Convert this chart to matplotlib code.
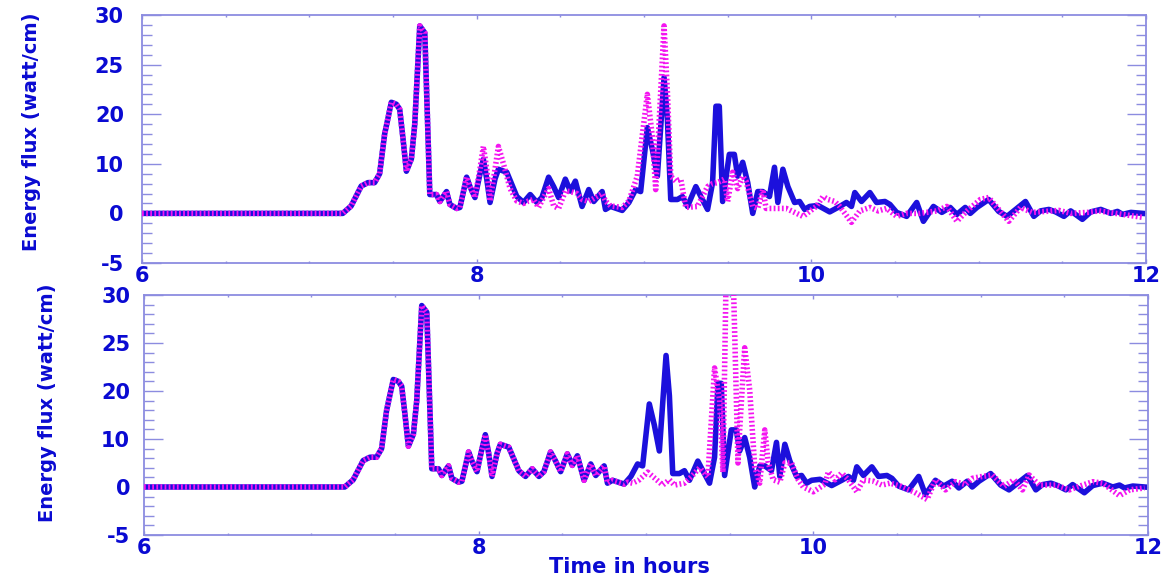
import numpy as np
import matplotlib
matplotlib.use("Agg")
import matplotlib.pyplot as plt
from matplotlib.ticker import FixedLocator, FixedFormatter, MultipleLocator

# Serie continua (azul), comun a los dos paneles: tiempo (horas) y flujo (watt/cm)
tiempo = [6.0, 7.0, 7.2, 7.25, 7.31, 7.35, 7.39, 7.42, 7.45, 7.49, 7.52, 7.54, 7.56, 7.58, 7.61,
          7.63, 7.66, 7.69, 7.71, 7.72, 7.76, 7.78, 7.82, 7.84, 7.88, 7.90, 7.94, 7.96, 7.99, 8.02,
          8.04, 8.06, 8.08, 8.11, 8.13, 8.18, 8.24, 8.28, 8.32, 8.36, 8.39, 8.43, 8.46, 8.49, 8.53,
          8.56, 8.59, 8.63, 8.67, 8.70, 8.75, 8.77, 8.80, 8.87, 8.91, 8.95, 8.98, 9.02, 9.05, 9.08,
          9.12, 9.14, 9.16, 9.20, 9.23, 9.26, 9.31, 9.34, 9.38, 9.41, 9.43, 9.45, 9.47, 9.51, 9.54,
          9.56, 9.59, 9.62, 9.65, 9.68, 9.71, 9.75, 9.78, 9.80, 9.83, 9.86, 9.90, 9.93, 9.96, 9.99,
          10.04, 10.11, 10.17, 10.21, 10.24, 10.26, 10.30, 10.35, 10.39, 10.44, 10.47, 10.51, 10.57,
          10.63, 10.67, 10.73, 10.78, 10.83, 10.87, 10.92, 10.95, 10.99, 11.06, 11.12, 11.17, 11.21,
          11.28, 11.33, 11.37, 11.42, 11.46, 11.51, 11.55, 11.62, 11.67, 11.73, 11.79, 11.83, 11.86,
          11.91, 11.98]
flujo = [0, 0, 0, 1.5, 5.5, 6.2, 6.2, 8, 16, 21.2, 21, 20.5, 15, 8.5, 11,
         18, 28.9, 28.2, 15, 3.8, 3.8, 2.4, 4.4, 1.8, 1.0, 1.2, 7.3, 5.4, 3.2, 8,
         10.9, 7, 2.2, 7, 8.9, 8.3, 3.4, 2.2, 3.8, 2.2, 3.2, 7.3, 5.4, 3.2, 6.9,
         4.5, 6.5, 1.4, 4.8, 2.4, 4.4, 0.8, 1.4, 0.6, 2.2, 4.8, 4.4, 17.3, 12.9, 7.5,
         23.7, 19, 2.8, 2.8, 3.4, 1.4, 5.4, 3.4, 0.8, 6.2, 20.8, 20.8, 2.4, 11.9, 11.9,
         7.5, 10.3, 6.2, 0, 4.4, 4.4, 3.4, 9.3, 2.2, 8.9, 5.4, 2.2, 2.4, 0.8, 1.4,
         1.6, 0.3, 1.4, 2.2, 1.4, 4.2, 2.4, 4.2, 2.2, 2.4, 1.8, 0.2, -0.3,
         2.2, -0.8, 1.4, 0.2, 1.2, -0.1, 1.2, 0, 1.2, 2.8, 0.4, -0.3, 0.5,
         2.4, -0.3, 0.5, 0.8, 0.3, -0.3, 0.5, -0.6, 0.3, 0.8, 0, 0.4, -0.1,
         0.2, 0]

# Serie punteada del panel superior: igual a la azul hasta las 8 h
tiempo_sup = [8.02, 8.04, 8.06, 8.08, 8.11, 8.13, 8.16, 8.20, 8.24, 8.28, 8.31, 8.34, 8.37, 8.40,
              8.43, 8.46, 8.49, 8.53, 8.56, 8.60, 8.63, 8.67, 8.70, 8.75, 8.77, 8.80, 8.87, 8.91,
              8.96, 9.02, 9.05, 9.07, 9.12, 9.14, 9.16, 9.19, 9.22, 9.25, 9.32, 9.38, 9.41, 9.44,
              9.48, 9.50, 9.53, 9.56, 9.59, 9.61, 9.65, 9.68, 9.71, 9.73, 9.78, 9.85, 9.95, 10.03,
              10.07, 10.10, 10.14, 10.17, 10.24, 10.29, 10.35, 10.40, 10.45, 10.51, 10.57, 10.65,
              10.75, 10.81, 10.87, 10.93, 11.01, 11.06, 11.11, 11.18, 11.25, 11.32, 11.40, 11.48,
              11.55, 11.65, 11.72, 11.82, 11.90, 11.98]
flujo_sup = [9, 13.5, 9, 2.5, 9, 13.5, 10, 5, 2.5, 2.0, 2.5, 2.8, 1.2, 3.2,
             5, 1.5, 1.0, 4.5, 4.4, 4.0, 2.8, 2.4, 3.0, 4.0, 2.5, 1.5, 1.2, 2.5,
             7.5, 22, 15.5, 4.8, 28.9, 22.2, 7.5, 6.5, 6.9, 1.2, 1.4, 5.4, 6.0, 6.2,
             6.9, 2.4, 8.3, 5.0, 7.5, 6.5, 1.4, 1.0, 4.8, 1.0, 1.0, 1.0, -0.3, 1.4,
             3.4, 2.8, 2.4, 1.4, -0.9, 0.5, 1.2, 0.5, 1.0, -0.3, 0, 0,
             0.5, 1.4, -0.8, 0.5, 2.8, 3.2, 1.2, -0.8, 1.2, 0.2, 0.4, 0.6,
             0, 0.2, 0.5, 0, -0.2, -0.4]

# Serie punteada del panel inferior: igual a la azul hasta las 8.88 h
tiempo_inf = [8.89, 8.92, 8.96, 9.01, 9.05, 9.10, 9.14, 9.17, 9.23, 9.27, 9.32, 9.37, 9.41, 9.44,
              9.46, 9.48, 9.52, 9.55, 9.56, 9.59, 9.62, 9.65, 9.68, 9.71, 9.73, 9.76, 9.80, 9.83,
              9.87, 9.91, 9.94, 10.0, 10.07, 10.09, 10.13, 10.17, 10.21, 10.26, 10.30, 10.36,
              10.41, 10.46, 10.52, 10.60, 10.68, 10.73, 10.79, 10.85, 10.91, 10.95, 11.01, 11.07,
              11.14, 11.20, 11.25, 11.29, 11.35, 11.45, 11.53, 11.61, 11.67, 11.73, 11.83, 11.89,
              11.98]
flujo_inf = [1.0, 0.8, 1.5, 3.1, 1.9, 0.4, 1.5, 0.4, 0.8, 2.1, 4.0, 2.1, 22.4, 18.1,
             3.1, 33, 33, 5.0, 11.9, 24.5, 20.1, 4.2, 0.8, 11.9, 5.2, 1.5, 1.0, 5.0,
             5.0, 1.5, 0, -0.5, 0.6, 3.2, 1.5, 2.9, 1.5, -0.5, 1.5, 1.2,
             0.4, 0.8, 0.2, -0.5, -1.3, 1.5, -0.3, 1.1, 0.5, 1.8, 2.2, 2.5,
             0.1, 1.5, -0.3, 2.5, 0.4, 0.4, -0.3, 0.4, 1.1, 0.8, -0.9, -0.3,
             -0.1]

# Marcas del eje y (espaciadas por igual en el dibujo) y del eje x
y_marcas = [-5, 0, 10, 20, 25, 30]
x_marcas = [6, 8, 10, 12]

AZUL = "#1c10dc"
MAGENTA = "#f414f0"
EJE = "#8c8ce0"
TEXTO = "#0a0ad2"

# Escala del eje y por tramos: cada marca ocupa el mismo espacio
y_valores = [-10, -5, 0, 10, 20, 25, 30, 60]
y_posic = [-2, -1, 0, 1, 2, 3, 4, 10]


def ida(v):
    return np.interp(v, y_valores, y_posic)


def vuelta(p):
    return np.interp(p, y_posic, y_valores)


plt.rcParams['font.family'] = 'DejaVu Sans'
plt.rcParams['font.weight'] = 'bold'

t = np.array(tiempo)
f = np.array(flujo)


def panel(ax, t_punt, f_punt, pad_y):
    ax.plot(t, f, color=AZUL, lw=4.0, solid_joinstyle='round', zorder=2)
    ax.plot(t_punt, f_punt, color=MAGENTA, lw=4.0, linestyle=(0, (0.32, 0.42)),
            dash_capstyle='butt', zorder=3)
    ax.set_yscale('function', functions=(ida, vuelta))
    ax.set_xlim(6, 12)
    ax.set_ylim(-5, 30)
    ax.xaxis.set_major_locator(FixedLocator(x_marcas))
    ax.xaxis.set_minor_locator(MultipleLocator(0.5))
    ax.yaxis.set_major_locator(FixedLocator(y_marcas))
    ax.yaxis.set_major_formatter(FixedFormatter([str(m) for m in y_marcas]))
    menores = vuelta(np.arange(-1, 4.01, 0.2))
    ax.yaxis.set_minor_locator(FixedLocator(menores))
    ax.yaxis.set_minor_formatter(FixedFormatter([""] * len(menores)))
    for s in ax.spines.values():
        s.set_color(EJE)
        s.set_linewidth(1.3)
    ax.tick_params(axis='y', which='major', direction='in', length=14, width=1,
                   color=EJE, left=True, right=True, labelsize=15, labelcolor=TEXTO, pad=pad_y)
    ax.tick_params(axis='y', which='minor', direction='in', length=7, width=1,
                   color=EJE, left=True, right=True)
    ax.tick_params(axis='x', which='major', direction='in', length=3, width=1,
                   color=EJE, top=True, bottom=True, labelsize=15, labelcolor=TEXTO, pad=2)
    ax.tick_params(axis='x', which='minor', direction='in', length=1.5, width=1,
                   color=EJE, top=True, bottom=True)


fig = plt.figure(figsize=(11.66, 5.79), dpi=100)
ax1 = fig.add_axes([0.1218, 0.5458, 0.861, 0.4283])
ax2 = fig.add_axes([0.1235, 0.0760, 0.861, 0.4145])

t1 = np.concatenate([t[t < 8.0], tiempo_sup])
f1 = np.concatenate([f[t < 8.0], flujo_sup])
t2 = np.concatenate([t[t < 8.88], tiempo_inf])
f2 = np.concatenate([f[t < 8.88], flujo_inf])

panel(ax1, t1, f1, 13)
panel(ax2, t2, f2, 10)

etiqueta = "Energy flux (watt/cm)"
fig.text(32 / 1166, 1 - 132 / 579, etiqueta, rotation=90, ha='center', va='center',
         fontsize=14, color=TEXTO)
fig.text(48 / 1166, 1 - 403 / 579, etiqueta, rotation=90, ha='center', va='center',
         fontsize=14, color=TEXTO)
fig.text(629 / 1166, 0.003, "Time in hours", ha='center', va='bottom',
         fontsize=15, color=TEXTO)

fig.savefig('out.png', dpi=100)
